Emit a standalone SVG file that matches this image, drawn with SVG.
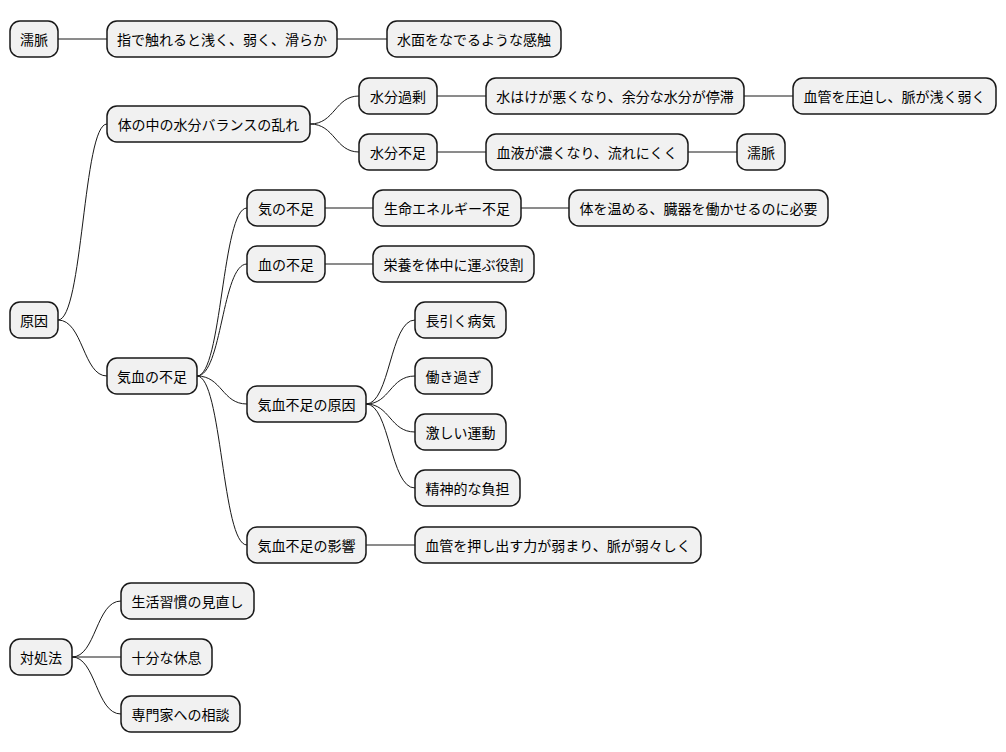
<svg xmlns="http://www.w3.org/2000/svg" width="1006" height="752" viewBox="0 0 1006 752">
<style>
.n rect{fill:#F1F1F1;stroke:#181818;stroke-width:1.5}
.n text{font-family:"Noto Sans CJK JP","Liberation Sans",sans-serif;font-size:14px;fill:#000;text-anchor:middle;dominant-baseline:central}
#edges path{fill:none;stroke:#181818;stroke-width:1}
</style>
<rect width="1006" height="752" fill="#fff"/>
<g id="edges">
<path d="M58 39H107"/><path d="M337 39H387"/>
<path d="M58 320C83 320 83 124 107 124"/>
<path d="M58 320C83 320 83 376 107 376"/>
<path d="M310 124C335 124 335 96 359 96"/><path d="M310 124C335 124 335 152 359 152"/>
<path d="M437 96H486"/><path d="M744 96H793"/>
<path d="M437 152H486"/><path d="M688 152H737"/>
<path d="M197 376C222 376 222 208 247 208"/>
<path d="M197 376C222 376 222 264 247 264"/>
<path d="M197 376C222 376 222 404 247 404"/>
<path d="M197 376C222 376 222 545 247 545"/>
<path d="M325 208H373"/><path d="M521 208H569"/>
<path d="M325 264H373"/>
<path d="M366 404C390 404 390 320 415 320"/>
<path d="M366 404C390 404 390 376 415 376"/>
<path d="M366 404C390 404 390 432 415 432"/>
<path d="M366 404C390 404 390 488 415 488"/>
<path d="M366 545H415"/>
<path d="M72 657C96 657 96 601 121 601"/>
<path d="M72 657H121"/>
<path d="M72 657C96 657 96 714 121 714"/>
</g>
<g id="n1" class="n"><rect x="10" y="21" width="48" height="36" rx="10"/><text x="34" y="39">濡脈</text></g>
<g id="n2" class="n"><rect x="107" y="21" width="230" height="36" rx="10"/><text x="222" y="39">指で触れると浅く、弱く、滑らか</text></g>
<g id="n3" class="n"><rect x="387" y="21" width="174" height="36" rx="10"/><text x="474" y="39">水面をなでるような感触</text></g>
<g id="n4" class="n"><rect x="107" y="106" width="203" height="36" rx="10"/><text x="208.5" y="124">体の中の水分バランスの乱れ</text></g>
<g id="n5" class="n"><rect x="359" y="78" width="78" height="36" rx="10"/><text x="398" y="96">水分過剰</text></g>
<g id="n6" class="n"><rect x="486" y="78" width="258" height="36" rx="10"/><text x="615" y="96">水はけが悪くなり、余分な水分が停滞</text></g>
<g id="n7" class="n"><rect x="793" y="78" width="203" height="36" rx="10"/><text x="894.5" y="96">血管を圧迫し、脈が浅く弱く</text></g>
<g id="n8" class="n"><rect x="359" y="134" width="78" height="36" rx="10"/><text x="398" y="152">水分不足</text></g>
<g id="n9" class="n"><rect x="486" y="134" width="202" height="36" rx="10"/><text x="587" y="152">血液が濃くなり、流れにくく</text></g>
<g id="n10" class="n"><rect x="737" y="134" width="48" height="36" rx="10"/><text x="761" y="152">濡脈</text></g>
<g id="n11" class="n"><rect x="10" y="302" width="48" height="36" rx="10"/><text x="34" y="320">原因</text></g>
<g id="n12" class="n"><rect x="107" y="358" width="90" height="36" rx="10"/><text x="152" y="376">気血の不足</text></g>
<g id="n13" class="n"><rect x="247" y="190" width="78" height="36" rx="10"/><text x="286" y="208">気の不足</text></g>
<g id="n14" class="n"><rect x="373" y="190" width="148" height="36" rx="10"/><text x="447" y="208">生命エネルギー不足</text></g>
<g id="n15" class="n"><rect x="569" y="190" width="259" height="36" rx="10"/><text x="698.5" y="208">体を温める、臓器を働かせるのに必要</text></g>
<g id="n16" class="n"><rect x="247" y="246" width="78" height="36" rx="10"/><text x="286" y="264">血の不足</text></g>
<g id="n17" class="n"><rect x="373" y="246" width="161" height="36" rx="10"/><text x="453.5" y="264">栄養を体中に運ぶ役割</text></g>
<g id="n18" class="n"><rect x="247" y="386" width="119" height="36" rx="10"/><text x="306.5" y="404">気血不足の原因</text></g>
<g id="n19" class="n"><rect x="415" y="302" width="91" height="36" rx="10"/><text x="460.5" y="320">長引く病気</text></g>
<g id="n20" class="n"><rect x="415" y="358" width="77" height="36" rx="10"/><text x="453.5" y="376">働き過ぎ</text></g>
<g id="n21" class="n"><rect x="415" y="414" width="91" height="36" rx="10"/><text x="460.5" y="432">激しい運動</text></g>
<g id="n22" class="n"><rect x="415" y="470" width="105" height="36" rx="10"/><text x="467.5" y="488">精神的な負担</text></g>
<g id="n23" class="n"><rect x="247" y="527" width="119" height="36" rx="10"/><text x="306.5" y="545">気血不足の影響</text></g>
<g id="n24" class="n"><rect x="415" y="527" width="286" height="36" rx="10"/><text x="558" y="545">血管を押し出す力が弱まり、脈が弱々しく</text></g>
<g id="n25" class="n"><rect x="10" y="639" width="62" height="36" rx="10"/><text x="41" y="657">対処法</text></g>
<g id="n26" class="n"><rect x="121" y="583" width="133" height="36" rx="10"/><text x="187.5" y="601">生活習慣の見直し</text></g>
<g id="n27" class="n"><rect x="121" y="639" width="91" height="36" rx="10"/><text x="166.5" y="657">十分な休息</text></g>
<g id="n28" class="n"><rect x="121" y="696" width="119" height="36" rx="10"/><text x="180.5" y="714">専門家への相談</text></g>
</svg>
